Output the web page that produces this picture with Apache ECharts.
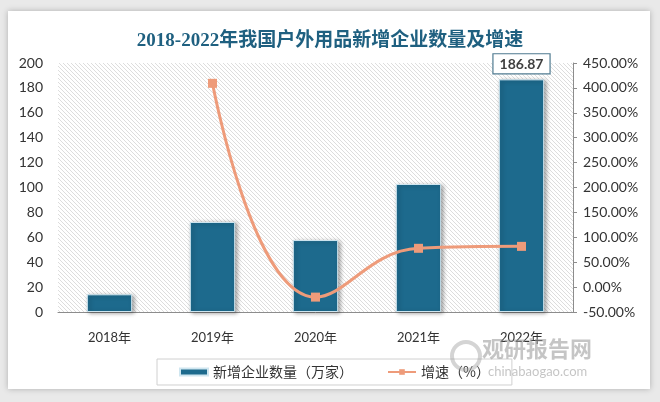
<!DOCTYPE html>
<html>
<head>
<meta charset="utf-8">
<script src="https://cdn.jsdelivr.net/npm/echarts@6/dist/echarts.min.js"></script>
<style>
html,body{margin:0;padding:0;background:#e9e9e9;}
#c{width:660px;height:402px;}
</style>
</head>
<body>
<div id="c"></div>
<script>
const categories = ['2018年', '2019年', '2020年', '2021年', '2022年'];
const newCompanies = [14.2, 72.3, 57.8, 102.8, 186.87];
const growthRate = [null, 409.2, -20.1, 77.9, 81.8];
const leftTicks = {min: 0, max: 200, interval: 20};
const rightTicks = {min: -50, max: 450, interval: 50};

function hatch() {
  const c = document.createElement('canvas');
  c.width = 4; c.height = 4;
  const ctx = c.getContext('2d');
  ctx.fillStyle = '#ffffff';
  ctx.fillRect(0, 0, 4, 4);
  ctx.fillStyle = '#dddddd';
  for (let i = 0; i < 4; i++) ctx.fillRect(i, i, 1, 1);
  return c;
}

const chart = echarts.init(document.getElementById('c'), null, {renderer: 'canvas'});
const axisFont = 'Lato, "Noto Sans CJK SC", sans-serif';
chart.setOption({
  backgroundColor: '#e9e9e9',
  graphic: [
    {type: 'rect', shape: {x: 8, y: 11, width: 642, height: 378}, style: {fill: '#ffffff', shadowBlur: 6, shadowColor: 'rgba(0,0,0,0.25)'}, z: -10},
    {type: 'text', left: 482, top: 338, style: {text: '观研报告网', fill: 'rgba(150,150,150,0.55)', font: 'bold 22px "Noto Sans CJK SC"'}, z: 100},
    {type: 'text', left: 488, top: 365, style: {text: 'chinabaogao.com', fill: 'rgba(150,150,150,0.55)', font: '13px Lato'}, z: 100},
    {type: 'circle', shape: {cx: 466, cy: 356, r: 14}, style: {fill: 'none', stroke: 'rgba(160,160,160,0.45)', lineWidth: 4}, z: 100}
  ],
  title: {
    text: '2018-2022年我国户外用品新增企业数量及增速',
    left: 'center', top: 27,
    textStyle: {fontSize: 19, fontWeight: 'bold', color: '#1f6080', fontFamily: '"Liberation Serif", "Noto Sans CJK SC", serif'}
  },
  grid: {
    left: 58, right: 87, top: 63, bottom: 90,
    show: true, borderWidth: 0,
    backgroundColor: {image: hatch(), repeat: 'repeat'}
  },
  legend: {
    left: 157, top: 359, width: 346,
    padding: [6, 22, 6, 22],
    borderColor: '#d0d0d0', borderWidth: 1,
    itemGap: 34, itemWidth: 28, itemHeight: 7,
    textStyle: {fontSize: 14, color: '#333', fontFamily: '"Noto Sans CJK SC", sans-serif'},
    data: [{name: '新增企业数量（万家）', icon: 'rect'}, {name: '增速（%）'}]
  },
  xAxis: {
    type: 'category', data: categories,
    axisLine: {lineStyle: {color: '#8c8c8c'}},
    axisTick: {show: false},
    axisLabel: {color: '#333', fontSize: 13, margin: 19, fontFamily: axisFont}
  },
  yAxis: [
    {
      type: 'value', min: leftTicks.min, max: leftTicks.max, interval: leftTicks.interval,
      splitLine: {show: false}, axisLine: {show: false}, axisTick: {show: false},
      axisLabel: {color: '#333', fontSize: 14, margin: 15, fontFamily: axisFont}
    },
    {
      type: 'value', min: rightTicks.min, max: rightTicks.max, interval: rightTicks.interval,
      splitLine: {show: false},
      axisLine: {show: true, lineStyle: {color: '#8c8c8c'}},
      axisTick: {show: true, length: 4, lineStyle: {color: '#8c8c8c'}},
      axisLabel: {color: '#333', fontSize: 14, margin: 10, fontFamily: axisFont,
        formatter: v => v.toFixed(2) + '%'}
    }
  ],
  series: [
    {
      name: '新增企业数量（万家）', type: 'bar', yAxisIndex: 0, barWidth: '44%',
      itemStyle: {color: '#1d6a8d', borderColor: '#cfe6f0', borderWidth: 1,
        shadowBlur: 4, shadowColor: 'rgba(0,0,0,0.35)', shadowOffsetX: 2, shadowOffsetY: 1},
      data: newCompanies.map((v, i) => i === newCompanies.length - 1 ? {
        value: v,
        label: {show: true, position: 'top', distance: 6, formatter: '{c}',
          color: '#404040', fontWeight: 'bold', fontSize: 14, fontFamily: 'Lato, sans-serif',
          backgroundColor: '#fff', borderColor: '#4f7a90', borderWidth: 1.2, padding: [3, 6, 2, 6]}
      } : v)
    },
    {
      name: '增速（%）', type: 'line', yAxisIndex: 1, smooth: 0.45,
      symbol: 'rect', symbolSize: 9,
      lineStyle: {color: '#ee9b7a', width: 3},
      itemStyle: {color: '#ee9b7a'},
      data: growthRate
    }
  ]
});
</script>
</body>
</html>
